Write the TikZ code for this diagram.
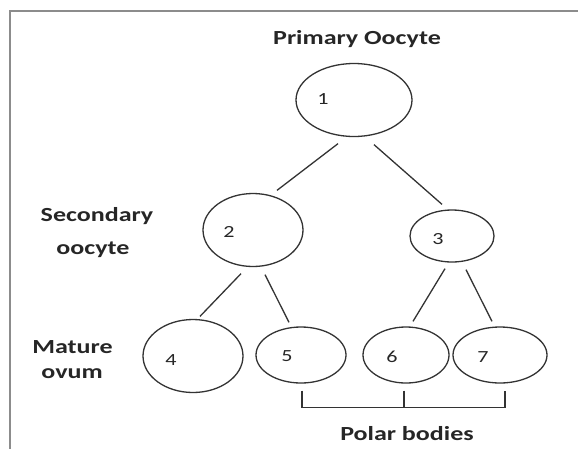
\documentclass[tikz,border=0pt]{standalone}
\usepackage{fontspec}
\usetikzlibrary{shapes.geometric,calc}
\newfontfamily\headfont[FakeStretch=1.3]{Carlito}
\begin{document}
\begin{tikzpicture}[x=1pt,y=-1pt,
  cell/.style={ellipse,draw=black!80,line width=1.3pt,inner sep=0pt},
  num/.style={font=\headfont\fontsize{17}{17}\selectfont,text=black!85,inner sep=0pt},
  stage/.style={font=\headfont\bfseries\fontsize{20}{20}\selectfont,text=black!85,inner sep=0pt,anchor=base},
  link/.style={draw=black!80,line width=1.3pt}]
  \useasboundingbox (0,0) rectangle (578,448);
  % page frame
  \draw[draw=black!45,line width=2pt] (10,460) -- (10,10.5) -- (590,10.5);

  % cells
  \node[cell,minimum width=116pt,minimum height=73pt] (e1) at (354,100) {};
  \node[cell,minimum width=100pt,minimum height=73pt] (e2) at (253,230) {};
  \node[cell,minimum width=84pt,minimum height=52pt]  (e3) at (452,236) {};
  \node[cell,minimum width=100pt,minimum height=73pt] (e4) at (193,356) {};
  \node[cell,minimum width=90pt,minimum height=56pt]  (e5) at (301,355) {};
  \node[cell,minimum width=86pt,minimum height=56pt]  (e6) at (406,355) {};
  \node[cell,minimum width=94pt,minimum height=56pt]  (e7) at (500,355) {};

  % cell numbers
  \node[num] (n1) at (323,99) {1};
  \node[num] (n2) at (229,232) {2};
  \node[num] (n3) at (438,239) {3};
  \node[num] (n4) at (171,360) {4};
  \node[num] (n5) at (287,356) {5};
  \node[num] (n6) at (392,357) {6};
  \node[num] (n7) at (483,357) {7};

  % line ends, kept clear of the cell outlines
  \coordinate (a12) at ($(e1.south)+(-16,6.5)$);
  \coordinate (b12) at ($(e2.north)+(24,-2.5)$);
  \coordinate (a13) at ($(e1.south)+(20,7.5)$);
  \coordinate (b13) at ($(e3.north)+(-10,-5)$);
  \coordinate (a24) at ($(e2.south)+(-12,6.5)$);
  \coordinate (b24) at ($(e4.north)+(7,-2.5)$);
  \coordinate (a25) at ($(e2.south)+(12,7.5)$);
  \coordinate (b25) at ($(e5.north)+(-12,-4)$);
  \coordinate (a36) at ($(e3.south)+(-7,6)$);
  \coordinate (b36) at ($(e6.north)+(7,-5)$);
  \coordinate (a37) at ($(e3.south)+(14,7)$);
  \coordinate (b37) at ($(e7.north)+(-8,-5)$);

  \draw[link] (a12) -- (b12);
  \draw[link] (a13) -- (b13);
  \draw[link] (a24) -- (b24);
  \draw[link] (a25) -- (b25);
  \draw[link] (a36) -- (b36);
  \draw[link] (a37) -- (b37);

  % bracket grouping the polar bodies
  \coordinate (p5) at ($(e5.south)+(1,7)$);
  \coordinate (p6) at ($(e6.south)+(-2,7)$);
  \coordinate (p7) at ($(e7.south)+(5,7)$);
  \draw[link,line width=1.2pt] (p5) -- ++(0,17) -| (p7);
  \draw[link,line width=1.2pt] (p6) -- ++(0,17);

  % stage labels
  \node[stage] (t1) at (357,44) {Primary Oocyte};
  \node[stage] (t2a) at (97,221) {Secondary};
  \node[stage] (t2b) at (93,254) {oocyte};
  \node[stage] (t3a) at (72.5,353) {Mature};
  \node[stage] (t3b) at (72,378) {ovum};
  \node[stage] (t4) at (407,440) {Polar bodies};
\end{tikzpicture}
\end{document}
